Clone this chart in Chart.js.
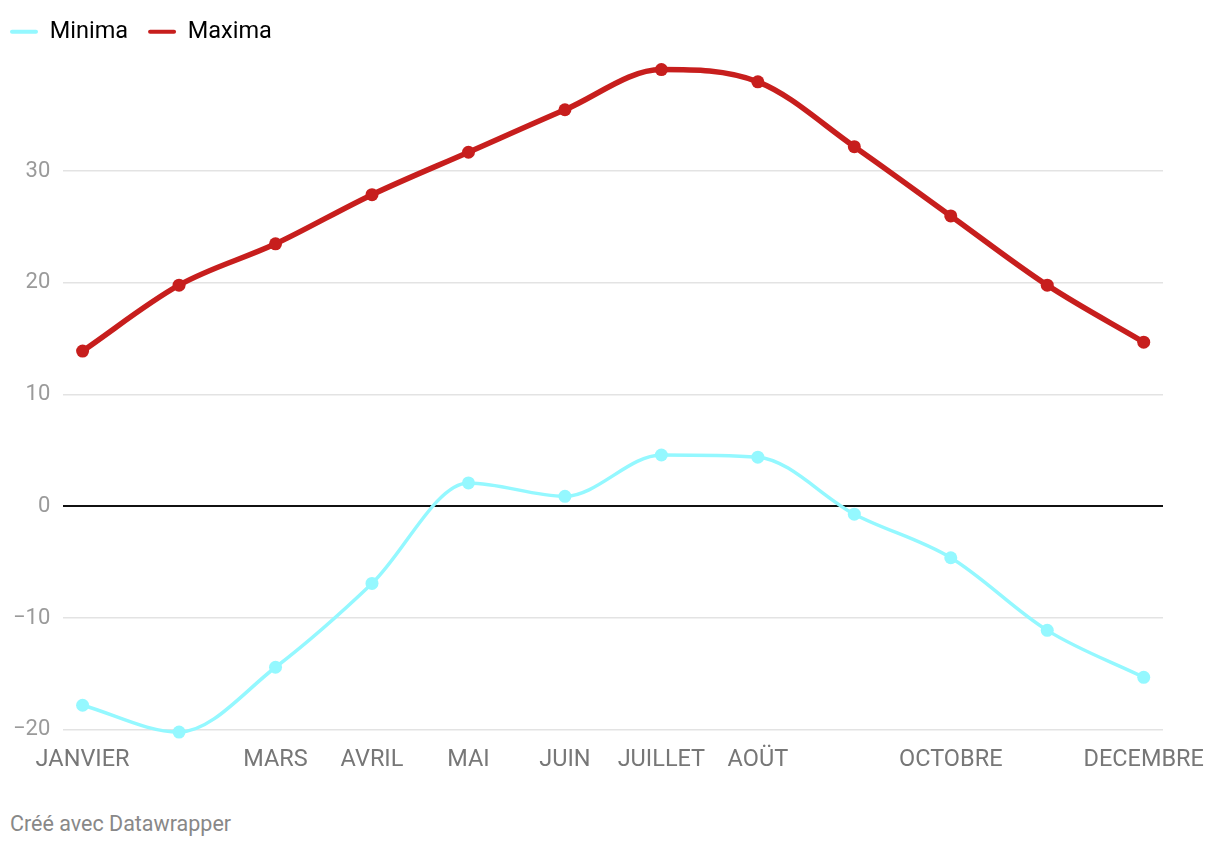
<!DOCTYPE html>
<html lang="fr">
<head>
<meta charset="utf-8">
<script src="https://cdn.jsdelivr.net/npm/chart.js@4/dist/chart.umd.min.js"></script>
<style>
  html, body { margin: 0; padding: 0; background: #fff; }
  #wrap { position: relative; width: 1220px; height: 800px; }
  #footer {
    position: absolute; left: 10px; top: 811px;
    font-family: Roboto, sans-serif; font-size: 21.5px; color: #888;
  }
</style>
</head>
<body>
<div id="wrap"><canvas id="tempChart"></canvas></div>
<div id="footer">Créé avec Datawrapper</div>
<script>
// Month labels (some are hidden on the axis, as in the original)
const months = ["JANVIER", "FEVRIER", "MARS", "AVRIL", "MAI", "JUIN",
  "JUILLET", "AOÜT", "SEPTEMBRE", "OCTOBRE", "NOVEMBRE", "DECEMBRE"];
const hiddenMonths = ["FEVRIER", "SEPTEMBRE", "NOVEMBRE"];

// Temperatures
const minima = [-17.8, -20.2, -14.4, -6.9, 2.1, 0.9, 4.6, 4.4, -0.7, -4.6, -11.1, -15.3];
const maxima = [13.9, 19.8, 23.5, 27.9, 31.7, 35.5, 39.1, 38.0, 32.2, 26.0, 19.8, 14.7];

const yTicks = [-20, -10, 0, 10, 20, 30];

function toPoints(values) {
  return values.map((v, i) => ({ x: i, y: v }));
}

// tweak the legend box: more room below it, and pulled to the left edge
const legendTweak = {
  id: "legendTweak",
  beforeInit(chart) {
    const origFit = chart.legend.fit;
    chart.legend.fit = function () {
      origFit.bind(chart.legend)();
      this.height += 6;
    };
  },
  afterLayout(chart) {
    chart.legend.left -= 10;
  },
};

const ctx = document.getElementById("tempChart");

new Chart(ctx, {
  type: "line",
  plugins: [legendTweak],
  data: {
    datasets: [
      {
        label: "Minima",
        data: toPoints(minima),
        borderColor: "#94f8ff",
        backgroundColor: "#94f8ff",
        borderWidth: 3.5,
        pointRadius: 6.5,
        pointHoverRadius: 6.5,
        pointBorderWidth: 0,
        cubicInterpolationMode: "monotone",
        clip: false,
      },
      {
        label: "Maxima",
        data: toPoints(maxima),
        borderColor: "#c71e1d",
        backgroundColor: "#c71e1d",
        borderWidth: 5.5,
        pointRadius: 6.5,
        pointHoverRadius: 6.5,
        pointBorderWidth: 0,
        cubicInterpolationMode: "monotone",
        clip: false,
      },
    ],
  },
  options: {
    responsive: true,
    maintainAspectRatio: false,
    animation: false,
    layout: {
      padding: { left: 0, right: 57, top: 0, bottom: 18 },
    },
    plugins: {
      tooltip: { enabled: false },
      legend: {
        position: "top",
        align: "start",
        labels: {
          boxWidth: 28,
          boxHeight: 4,
          padding: 20,
          color: "#222",
          font: { family: "Roboto", size: 23.5 },
          useBorderRadius: true,
          borderRadius: 2,
          generateLabels: (chart) =>
            chart.data.datasets.map((ds, i) => ({
              text: ds.label,
              fillStyle: ds.borderColor,
              strokeStyle: ds.borderColor,
              lineWidth: 0,
              borderRadius: 2,
              datasetIndex: i,
            })),
        },
      },
    },
    scales: {
      x: {
        type: "linear",
        min: -0.2,
        max: 11.2,
        grid: { display: false },
        border: { display: false },
        ticks: {
          stepSize: 1,
          includeBounds: false,
          autoSkip: false,
          maxRotation: 0,
          padding: 8,
          color: "#777",
          font: { family: "Roboto", size: 23.5 },
          callback: (v) => {
            if (!Number.isInteger(v)) return "";
            const m = months[v];
            return hiddenMonths.includes(m) ? "" : m;
          },
        },
      },
      y: {
        min: -20,
        max: 40,
        border: { display: false },
        afterBuildTicks: (axis) => {
          axis.ticks = yTicks.map((v) => ({ value: v }));
        },
        grid: {
          drawTicks: false,
          color: (c) => (c.tick && c.tick.value === 0 ? "#111" : "#e3e3e3"),
          lineWidth: (c) => (c.tick && c.tick.value === 0 ? 2 : 1.5),
        },
        ticks: {
          padding: 13,
          color: "#9a9a9a",
          font: { family: "Roboto", size: 22 },
          callback: (v) => (v < 0 ? "\u2212" + Math.abs(v) : String(v)),
        },
      },
    },
  },
});
</script>
</body>
</html>
